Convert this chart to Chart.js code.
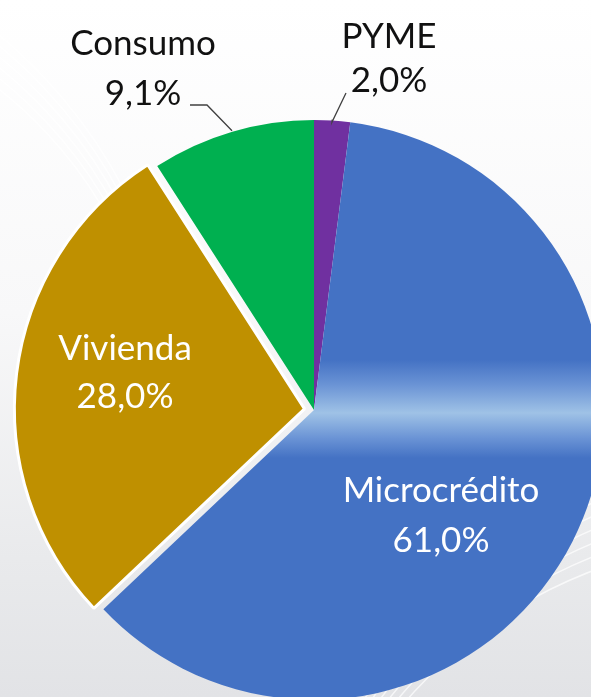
<!DOCTYPE html>
<html>
<head>
<meta charset="utf-8">
<script src="https://cdn.jsdelivr.net/npm/chart.js@4/dist/chart.umd.min.js"></script>
<style>
	html, body {
		margin: 0;
		width: 591px;
		height: 697px;
		overflow: hidden;
		background: linear-gradient(180deg, #ffffff 0%, #f8f8f9 45%, #e9eaec 80%, #e2e3e6 100%);
	}
	#wrap {
		position: absolute;
		left: 0;
		top: 0;
		width: 628px;
		height: 820px;
	}
</style>
</head>
<body>
<div id="wrap"><canvas id="pieChart"></canvas></div>
<script>
/**
 * Cartera por tipo de crédito
 */

const categories = ['PYME', 'Microcrédito', 'Vivienda', 'Consumo'];
const shares = [2.0, 61.0, 28.0, 9.1];
const shareLabels = ['2,0%', '61,0%', '28,0%', '9,1%'];
const sliceColors = ['#7030a0', '#4472c4', '#bf9000', '#00b050'];

// light band across the blue slice
function sliceFill(context) {
	let color = sliceColors[context.dataIndex];
	if (context.dataIndex !== 1) return color;
	let area = context.chart.chartArea;
	if (!area) return color;
	let cy = (area.top + area.bottom) / 2;
	let g = context.chart.ctx.createLinearGradient(0, cy - 50, 0, cy + 48);
	g.addColorStop(0, color);
	g.addColorStop(0.25, '#6a93d5');
	g.addColorStop(0.54, '#9fc2e6');
	g.addColorStop(0.8, '#6a93d5');
	g.addColorStop(1, color);
	return g;
}

// text placement relative to the pie centre: [dx, dy line 1, dy line 2]
const labelPlace = [
	{ dx: 75, dy: [-362, -318], color: '#111111', outside: true, elbow: [[32, -317], [18, -288]] },
	{ dx: 127, dy: [92, 142], color: '#ffffff' },
	{ dx: -189, dy: [-50, -2], color: '#ffffff' },
	{ dx: -171, dy: [-355, -305], color: '#111111', outside: true, elbow: [[-124, -305], [-107, -305]] }
];

// faint swooshes in the background
const backdrop = {
	id: 'backdrop',
	beforeDraw(chart) {
		let ctx = chart.ctx;
		ctx.save();
		ctx.strokeStyle = 'rgba(255,255,255,0.7)';
		ctx.lineWidth = 1.5;
		for (let k = 0; k < 6; k++) {
			ctx.beginPath();
			ctx.arc(760 + k * 14, 1010, 470 + k * 18, Math.PI * 1.05, Math.PI * 1.45);
			ctx.stroke();
			ctx.beginPath();
			ctx.arc(-260 - k * 12, 420, 420 + k * 16, Math.PI * 1.62, Math.PI * 1.9);
			ctx.stroke();
		}
		ctx.restore();
	}
};

const pieLabels = {
	id: 'pieLabels',
	afterDatasetsDraw(chart) {
		let ctx = chart.ctx;
		let meta = chart.getDatasetMeta(0);
		ctx.save();
		meta.data.forEach((arc, i) => {
			let p = labelPlace[i];
			let props = arc.getProps(['x', 'y', 'startAngle', 'endAngle', 'outerRadius']);
			let cx = props.x;
			let cy = props.y;
			if (p.outside) {
				let mid = (props.startAngle + props.endAngle) / 2;
				let ex = cx + Math.cos(mid) * (props.outerRadius + 1);
				let ey = cy + Math.sin(mid) * (props.outerRadius + 1);
				ctx.strokeStyle = '#404040';
				ctx.lineWidth = 1.3;
				ctx.beginPath();
				ctx.moveTo(cx + p.elbow[0][0], cy + p.elbow[0][1]);
				ctx.lineTo(cx + p.elbow[1][0], cy + p.elbow[1][1]);
				ctx.lineTo(ex, ey);
				ctx.stroke();
			}
			ctx.fillStyle = p.color;
			ctx.font = '35px Lato';
			ctx.textAlign = 'center';
			ctx.textBaseline = 'alphabetic';
			ctx.fillText(categories[i], cx + p.dx, cy + p.dy[0]);
			ctx.fillText(shareLabels[i], cx + p.dx, cy + p.dy[1]);
		});
		ctx.restore();
	}
};

let pieCtx = document.getElementById('pieChart')
	.getContext('2d');

let pieChart = new Chart(pieCtx, {
	type: 'pie',
	data: {
		labels: categories,
		datasets: [{
			data: shares,
			backgroundColor: sliceFill,
			borderColor: '#ffffff',
			borderWidth: [0, 0, 3, 0],
			offset: [0, 0, 38, 0],
			radius: 290
		}]
	},
	options: {
		responsive: true,
		maintainAspectRatio: false,
		animation: false,
		events: [],
		layout: { padding: 0 },
		plugins: {
			legend: { display: false },
			tooltip: { enabled: false }
		}
	},
	plugins: [backdrop, pieLabels]
});
</script>
</body>
</html>
